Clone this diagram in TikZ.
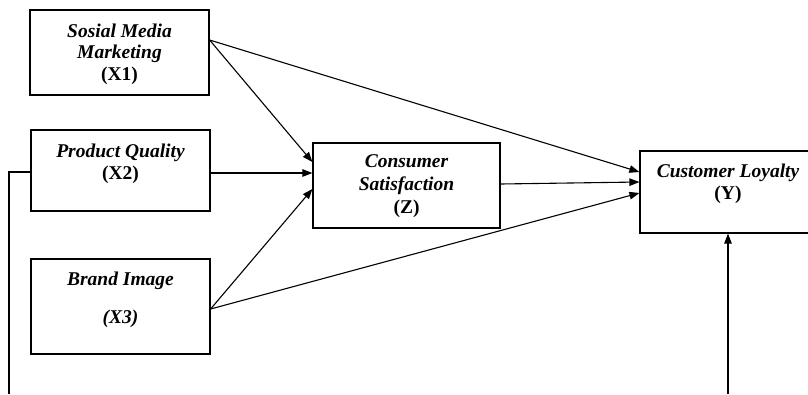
\documentclass[tikz,border=0pt]{standalone}
\usepackage{fontspec}
\setmainfont{Liberation Serif}
\usetikzlibrary{arrows.meta}
\begin{document}
\begin{tikzpicture}[x=1pt,y=-1pt,
  box/.style={draw,line width=1.2pt,inner sep=0pt,minimum width=#1},
  lbl/.style={align=center,inner sep=0pt,font=\fontsize{19.5}{21.5}\selectfont\bfseries\itshape},
  link/.style={line width=1.1pt,-{Triangle[length=10pt,width=7.5pt]}},
  wire/.style={line width=1.1pt}]
\clip (0,0) rectangle (808,394);
\fill[white] (0,0) rectangle (808,394);

% construct boxes
\node[box=179pt,minimum height=85pt] (x1) at (119.5,52.5) {};
\node[box=179pt,minimum height=81pt] (x2) at (120.5,170.5) {};
\node[box=179pt,minimum height=95pt] (x3) at (120.5,306.5) {};
\node[box=187pt,minimum height=85pt] (z)  at (406.5,185.5) {};
\node[box=176pt,minimum height=82pt] (y)  at (728,192) {};

% construct labels
\node[lbl] (tx1) at (119.5,54) {Sosial Media\\Marketing\\\upshape(X1)};
\node[lbl] (tx2) at (120.5,164) {Product Quality\\\upshape(X2)};
\node[lbl] (tx3) at (120.5,299.5) {Brand Image\\[16.5pt](X3)};
\node[lbl,font=\fontsize{19.5}{23}\selectfont\bfseries\itshape] (tz) at (406.5,186.5) {Consumer\\Satisfaction\\\upshape(Z)};
\node[lbl,font=\fontsize{19.5}{22}\selectfont\bfseries\itshape] (ty) at (728,184) {Customer Loyalty\\\upshape(Y)};

% attachment points
\coordinate (x1o) at ([yshift=12.5pt]x1.east);
\coordinate (x2o) at ([yshift=-2.5pt]x2.east);
\coordinate (x2w) at ([yshift=-1.5pt]x2.west);
\coordinate (x3o) at ([yshift=-2.5pt]x3.east);
\coordinate (zo)  at ([yshift=1.5pt]z.east);
\coordinate (zi1) at ([yshift=23.5pt]z.west);
\coordinate (zi2) at ([yshift=12.5pt]z.west);
\coordinate (zi3) at ([yshift=-3.5pt]z.west);
\coordinate (yi1) at ([yshift=20pt]y.west);
\coordinate (yi2) at ([yshift=10pt]y.west);
\coordinate (yi3) at ([yshift=-1pt]y.west);
\coordinate (lcorner) at (9,172);
\coordinate (lend) at (9,394);
\coordinate (bend) at (y.south |- 0,394);

% paths
\draw[link] (x1o) -- (zi1);
\draw[link] (x1o) -- (yi1);
\draw[link] (x2o) -- (zi2);
\draw[link] (x3o) -- (zi3);
\draw[link] (x3o) -- (yi3);
\draw[link] (zo) -- (yi2);
\draw[wire] (x2w) -- (lcorner) -- (lend);
\draw[link] (bend) -- (y.south);
\end{tikzpicture}
\end{document}
